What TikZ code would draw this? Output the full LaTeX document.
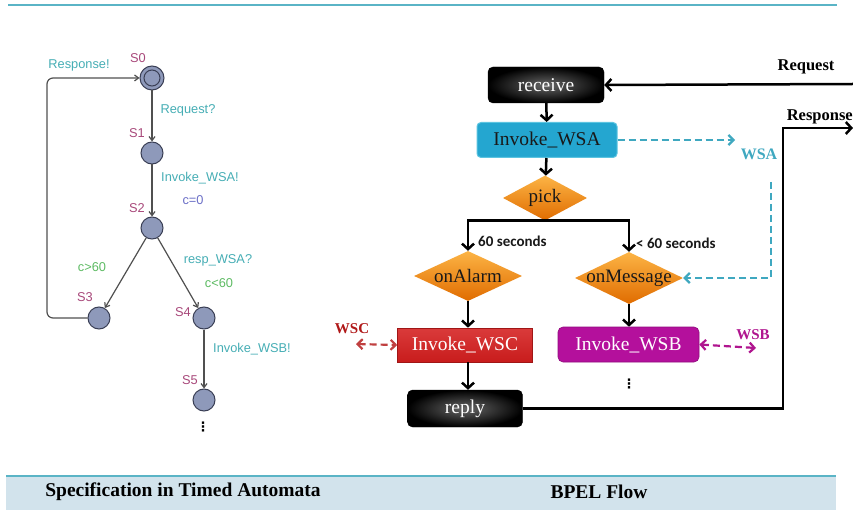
\documentclass[tikz,border=0pt]{standalone}
\usepackage{fontspec}
\setmainfont{Liberation Serif}
\newfontfamily\arialf{Liberation Sans}
\newfontfamily\calibf{Carlito}
\newfontfamily\dejavuf{DejaVu Sans}
\usetikzlibrary{arrows.meta,shapes.geometric}
\definecolor{tealline}{HTML}{5AB4C6}
\definecolor{bandfill}{HTML}{D2E3EC}
\definecolor{statefill}{HTML}{8E99BA}
\definecolor{statedraw}{HTML}{3A3F55}
\definecolor{spurple}{HTML}{A8487A}
\definecolor{tlab}{HTML}{46AEB5}
\definecolor{glab}{HTML}{5DBB63}
\definecolor{clab}{HTML}{6B6FC7}
\definecolor{tagray}{HTML}{505050}
\definecolor{wsafill}{HTML}{24A6D0}
\definecolor{wsadraw}{HTML}{5CC4E0}
\definecolor{diatop}{HTML}{FCB445}
\definecolor{diabot}{HTML}{E06C00}
\definecolor{wscfill}{HTML}{C81C1C}
\definecolor{wsctop}{HTML}{DA3B3B}
\definecolor{wsbfill}{HTML}{B4109C}
\definecolor{wsacol}{HTML}{3FA8C0}
\definecolor{wsccol}{HTML}{C04040}
\definecolor{wsclab}{HTML}{B01818}
\definecolor{wsbcol}{HTML}{B0158F}
\begin{document}
\begin{tikzpicture}[x=1pt,y=-1pt,
  state/.style={circle, draw=statedraw, fill=statefill, line width=1pt, minimum size=22pt, inner sep=0pt},
  slab/.style={font=\arialf\fontsize{12.8}{13}\selectfont, text=spurple, inner sep=0pt},
  tlabel/.style={font=\arialf\fontsize{12.8}{13}\selectfont, text=tlab, inner sep=0pt},
  glabel/.style={font=\arialf\fontsize{12.8}{13}\selectfont, text=glab, inner sep=0pt},
  tarr/.style={draw=tagray, line width=1.2pt, -{Straight Barb[length=4pt,width=6pt]}},
  blk/.style={rectangle, rounded corners=5pt, inner color=black!60, outer color=black, draw=black, text=white, font=\fontsize{19.5}{19}\selectfont, inner sep=0pt},
  dia/.style={diamond, top color=diatop, bottom color=diabot, inner sep=0pt},
  dtext/.style={font=\fontsize{19}{19}\selectfont, text=black!90, inner sep=0pt},
  farr/.style={line width=2.5pt, -{Straight Barb[length=5.5pt,width=12pt]}},
  dasharr/.style={line width=2.2pt, dash pattern=on 7pt off 4pt},
  seclab/.style={font=\calibf\bfseries\fontsize{15}{15}\selectfont, text=black!90, inner sep=0pt},
  blab/.style={font=\bfseries\fontsize{16.5}{17}\selectfont, inner sep=0pt},
  vdot/.style={font=\dejavuf\bfseries\fontsize{13}{13}\selectfont, inner sep=0pt},
  foot/.style={font=\bfseries\fontsize{19.5}{20}\selectfont, text=black, inner sep=0pt}]
\path[use as bounding box] (0,0) rectangle (853,510);
\fill[white] (0,0) rectangle (853,510);
% frame lines and band
\draw[tealline, line width=2pt] (8,5) -- (837,5);
\fill[bandfill] (6,476) rectangle (836,510);
\draw[tealline, line width=2pt] (6,476) -- (836,476);
\node[foot] (t1) at (183,492) {Specification in Timed Automata};
\node[foot] (t2) at (599,492) {BPEL Flow};

% ---------- timed automaton ----------
\node[state, minimum size=24pt] (s0) at (152,78) {};
\node[circle, draw=statedraw, line width=1pt, minimum size=16pt, inner sep=0pt] (s0in) at (152,78) {};
\node[state] (s1) at (152,153) {};
\node[state] (s2) at (152,228) {};
\node[state] (s3) at (99,318) {};
\node[state] (s4) at (204,318) {};
\node[state] (s5) at (204,400) {};
\draw[tarr] (s0) -- (s1);
\draw[tarr] (s1) -- (s2);
\draw[tarr] (s2) -- (s3);
\draw[tarr] (s2) -- (s4);
\draw[tarr] (s4) -- (s5);
\draw[tarr, rounded corners=6pt] (s3.west) -- (47,318) -- (47,78) -- (s0.west);
\node[slab] (ls0) at (138,58) {S0};
\node[slab] (ls1) at (137,133) {S1};
\node[slab] (ls2) at (137,208) {S2};
\node[slab] (ls3) at (85,297) {S3};
\node[slab] (ls4) at (183,312) {S4};
\node[slab] (ls5) at (190,380) {S5};
\node[tlabel] (lresp) at (79,65) {Response!};
\node[tlabel] (lreq) at (188,110) {Request?};
\node[tlabel] (linv) at (200,178) {Invoke\_WSA!};
\node[font=\arialf\fontsize{12.8}{13}\selectfont, text=clab, inner sep=0pt] (lc0) at (193,200) {c=0};
\node[glabel] (lc60) at (92,267) {c>60};
\node[tlabel] (lrw) at (218,260) {resp\_WSA?};
\node[glabel] (lcl60) at (219,283) {c<60};
\node[tlabel] (linvb) at (252,349) {Invoke\_WSB!};
\node[vdot] (tadots) at (203,427) {⋮};

% ---------- BPEL flow ----------
\node[blk, minimum width=116pt, minimum height=36pt] (recv) at (546,85) {receive};
\node[rectangle, rounded corners=4pt, fill=wsafill, draw=wsadraw, line width=1pt, minimum width=140pt, minimum height=35pt, font=\fontsize{19.5}{19}\selectfont, text=black!90, inner sep=0pt] (iwsa) at (547,140) {Invoke\_WSA};
\node[dia, minimum width=84pt, minimum height=45pt] (pick) at (545,198) {};
\node[dtext] (pickt) at (pick) {pick};
\node[dia, minimum width=108pt, minimum height=50pt] (onA) at (468,276) {};
\node[dtext] (onAt) at (onA) {onAlarm};
\node[dia, minimum width=108pt, minimum height=52pt] (onM) at (629,278) {};
\node[dtext] (onMt) at (onM) {onMessage};
\node[rectangle, top color=wsctop, bottom color=wscfill, draw=wscfill!80!black, line width=0.6pt, minimum width=135pt, minimum height=34pt, text=white, font=\fontsize{19.5}{19}\selectfont, inner sep=0pt] (wsc) at (465,345) {Invoke\_WSC};
\node[rectangle, rounded corners=5pt, fill=wsbfill, draw=wsbfill!80!black, line width=0.6pt, minimum width=141pt, minimum height=35pt, text=white, font=\fontsize{19.5}{19}\selectfont, inner sep=0pt] (wsb) at (628.5,344.5) {Invoke\_WSB};
\node[blk, minimum width=115pt, minimum height=37pt] (reply) at (465,408.5) {reply};
\node[vdot] (bdots) at (629,384) {⋮};

\draw[farr] (recv) -- (iwsa);
\draw[farr] (iwsa) -- (pick);
\draw[farr] (pick.south) -| (onA.north);
\draw[farr] (pick.south) -| (onM.north);
\draw[farr] (onA.south) -- (onA.south |- wsc.north);
\draw[farr] (wsc.south -| onA.south) -- (reply.north -| onA.south);
\draw[farr] (onM.south) -- (onM.south |- wsb.north);
\node[seclab, anchor=west] (l60) at (478,241) {60 seconds};
\node[seclab, anchor=west] (ll60) at (636,243) {< 60 seconds};

% Request / Response
\coordinate (reqR) at (853,84);
\draw[farr] (reqR) -- (recv.east);
\node[blab] (lreqb) at (806,67) {Request};
\coordinate (resR) at (853,128);
\draw[farr] (reply.east) -| (783,128) -- (resR);
\node[blab, anchor=east] (lresb) at (853,117) {Response};

% WSA
\coordinate (wsaTip) at (735,140);
\draw[dasharr, wsacol, -{Straight Barb[length=5pt,width=10pt]}] (iwsa.east) -- (wsaTip);
\node[font=\bfseries\fontsize{16}{16}\selectfont, text=wsacol, inner sep=0pt] (lwsa) at (759,154) {WSA};
\coordinate (wsaDown) at (771,182);
\draw[dasharr, wsacol, -{Straight Barb[length=5pt,width=10pt]}] (wsaDown) |- (onM.east);

% WSC
\coordinate (wscL) at (356,344);
\draw[dasharr, wsccol, {Straight Barb[length=5pt,width=10pt]}-{Straight Barb[length=5pt,width=10pt]}] (wscL) -- (wsc.west);
\node[font=\bfseries\fontsize{15}{15}\selectfont, text=wsclab, inner sep=0pt] (lwsc) at (352,329) {WSC};

% WSB
\coordinate (wsbR) at (756,348);
\draw[dasharr, wsbcol, {Straight Barb[length=5pt,width=10pt]}-{Straight Barb[length=5pt,width=10pt]}] (wsb.east) -- (wsbR);
\node[font=\bfseries\fontsize{15}{15}\selectfont, text=wsbcol, inner sep=0pt] (lwsb) at (753,335) {WSB};
\end{tikzpicture}
\end{document}
